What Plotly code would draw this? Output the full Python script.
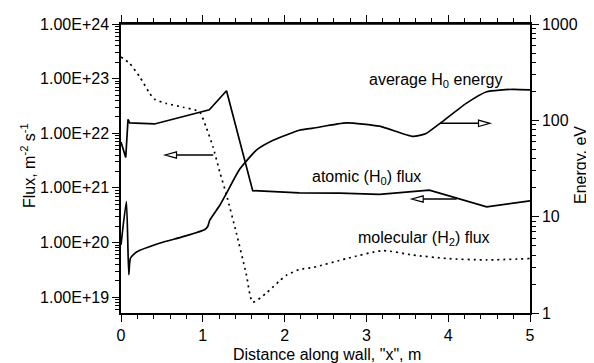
import plotly.graph_objects as go

# ---------------- data ----------------
x_atomic = [0.0, 0.058, 0.086, 0.106, 0.41, 1.08, 1.29, 1.61, 2.18, 2.67, 3.16, 3.77, 4.47, 5.0]
atomic_flux = [6.9e21, 3.6e21, 1.8e22, 1.55e22, 1.48e22, 2.7e22, 6.0e22, 8.9e20, 8.1e20, 8.0e20,
               7.6e20, 9.1e20, 4.5e20, 5.8e20]

x_molec = [0.0, 0.106, 0.23, 0.35, 0.41, 0.555, 0.76, 0.96, 1.04, 1.125, 1.21, 1.29, 1.41, 1.53,
           1.61, 1.78, 1.94, 2.02, 2.18, 2.35, 2.76, 3.20, 3.57, 3.98, 4.47, 5.0]
molec_flux = [2.5e23, 1.9e23, 1.07e23, 5.4e22, 4.2e22, 3.5e22, 3.0e22, 2.45e22, 1.3e22, 5.6e21,
              1.9e21, 7.4e20, 1.5e20, 2.7e19, 8.1e18, 1.2e19, 2.0e19, 2.5e19, 3.2e19, 3.5e19,
              5.1e19, 7.1e19, 5.9e19, 5.1e19, 4.8e19, 5.1e19]

x_energy = [0.0, 0.066, 0.095, 0.115, 0.19, 0.47, 0.76, 1.02, 1.06, 1.085, 1.21, 1.29, 1.45,
            1.655, 1.86, 2.18, 2.35, 2.755, 3.16, 3.57, 3.73, 3.90, 4.22, 4.47, 4.79, 5.0]
energy = [5.1, 14.3, 2.5, 3.7, 4.3, 5.3, 6.2, 7.3, 7.9, 9.2, 13.2, 17.5, 31, 49, 62, 79, 83, 94,
          87, 68, 73, 93, 150, 198, 210, 207]

flux_tick_vals = [1e19, 1e20, 1e21, 1e22, 1e23, 1e24]
flux_tick_text = ["1.00E+19", "1.00E+20", "1.00E+21", "1.00E+22", "1.00E+23", "1.00E+24"]
energy_tick_vals = [1, 10, 100, 1000]
energy_tick_text = ["1", "10", "100", "1000"]
x_tick_vals = [0, 1, 2, 3, 4, 5]

FONT = "Liberation Sans, Arial, Helvetica, sans-serif"
FS = 16
FS_TICK = 16

flux_minor = [float(k) * 10.0 ** n for n in range(18, 24) for k in range(2, 10)]
energy_minor = [float(k) * 10.0 ** n for n in range(0, 3) for k in range(2, 10)]
x_minor = [round(i * 0.2, 3) for i in range(26)]

fig = go.Figure()
fig.add_trace(go.Scatter(x=x_atomic, y=atomic_flux, mode="lines",
                         line=dict(color="black", width=1.7), yaxis="y", showlegend=False))
fig.add_trace(go.Scatter(x=x_molec, y=molec_flux, mode="lines",
                         line=dict(color="black", width=1.7, dash="2px,4px", shape="spline", smoothing=0.6),
                         yaxis="y", showlegend=False))
fig.add_trace(go.Scatter(x=x_energy, y=energy, mode="lines",
                         line=dict(color="black", width=1.7, shape="spline", smoothing=0.5),
                         yaxis="y2", showlegend=False))

# ---- layout geometry (pixels) ----
# the page body has an 8px margin, so the figure is drawn 8px right/down of the window corner
OFF = 8
W, H = 594 - OFF, 363 - OFF
X0_SCR, X1_SCR, Y0_SCR, Y1_SCR = 121, 530, 24, 313   # plot area in window pixels
L, R, T, B = X0_SCR - OFF, 594 - X1_SCR, Y0_SCR - OFF, 363 - Y1_SCR
PW, PH = X1_SCR - X0_SCR, Y1_SCR - Y0_SCR


def px(xp):
    return (xp - X0_SCR) / PW


def py(yp):
    return (Y1_SCR - yp) / PH


common = dict(ticks="outside", ticklen=7, tickwidth=1.2, tickcolor="black", showline=True,
              linecolor="black", linewidth=1.5, showgrid=False, zeroline=False,
              tickfont=dict(size=FS_TICK, family=FONT, color="black"), automargin=False)

fig.update_layout(
    template="none",
    width=W, height=H,
    margin=dict(l=L, r=R, t=T, b=B, pad=0),
    paper_bgcolor="white", plot_bgcolor="white",
    font=dict(family=FONT, size=FS, color="black"),
    showlegend=False,
    xaxis=dict(range=[0, 5], tickvals=x_tick_vals, mirror="ticks",
               minor=dict(tickmode="array", tickvals=x_minor, ticks="outside", ticklen=4,
                          tickwidth=1, tickcolor="black"), **common),
    yaxis=dict(type="log", range=[18.71, 24.0], tickvals=flux_tick_vals, ticktext=flux_tick_text,
               minor=dict(tickmode="array", tickvals=flux_minor, ticks="outside", ticklen=4,
                          tickwidth=1, tickcolor="black"), **common),
    yaxis2=dict(type="log", range=[0, 3], overlaying="y", side="right",
                tickvals=energy_tick_vals, ticktext=energy_tick_text,
                minor=dict(tickmode="array", tickvals=energy_minor, ticks="outside", ticklen=4,
                           tickwidth=1, tickcolor="black"), **common),
)

# top frame line
fig.add_shape(type="line", xref="paper", yref="paper", x0=0, x1=1, y0=1, y1=1,
              line=dict(color="black", width=1.5))

# axis titles (placed as annotations)
fig.add_annotation(text='Distance along wall, "x", m', xref="paper", yref="paper",
                   x=px(327), y=py(354), showarrow=False, xanchor="center", yanchor="middle",
                   font=dict(size=FS, family=FONT, color="black"))
fig.add_annotation(text="Flux, m<sup>-2</sup> s<sup>-1</sup>", xref="paper", yref="paper",
                   x=px(28), y=py(166), showarrow=False, xanchor="center", yanchor="middle",
                   textangle=-90, font=dict(size=FS, family=FONT, color="black"))
fig.add_annotation(text="Energy, eV", xref="paper", yref="paper",
                   x=px(580), y=py(165), showarrow=False, xanchor="center", yanchor="middle",
                   textangle=-90, font=dict(size=FS, family=FONT, color="black"))

# text labels
labels = [
    ("average H<sub>0</sub> energy", 435, 80),
    ("atomic (H<sub>0</sub>) flux", 366, 177),
    ("molecular (H<sub>2</sub>) flux", 424, 238),
]
for txt, xp, yp in labels:
    fig.add_annotation(text=txt, xref="paper", yref="paper", x=px(xp), y=py(yp),
                       showarrow=False, xanchor="center", yanchor="middle",
                       font=dict(size=FS, family=FONT, color="black"))

# open-headed arrows: (tail_x, head_tip_x, y) in window pixels
arrows = [(440, 490, 123.3), (456.7, 411.7, 199), (213.3, 165, 155)]
HEAD = 11.5
HALF = 3.2
for x0, xt, yy in arrows:
    d = 1 if xt > x0 else -1
    xb = xt - d * HEAD
    fig.add_shape(type="line", xref="paper", yref="paper", x0=px(x0), x1=px(xb), y0=py(yy), y1=py(yy),
                  line=dict(color="black", width=1.5))
    path = (f"M {px(xt)},{py(yy)} L {px(xb)},{py(yy - HALF)} "
            f"L {px(xb)},{py(yy + HALF)} Z")
    fig.add_shape(type="path", xref="paper", yref="paper", path=path,
                  fillcolor="white", line=dict(color="black", width=1.2))

fig.write_html("out.html")
